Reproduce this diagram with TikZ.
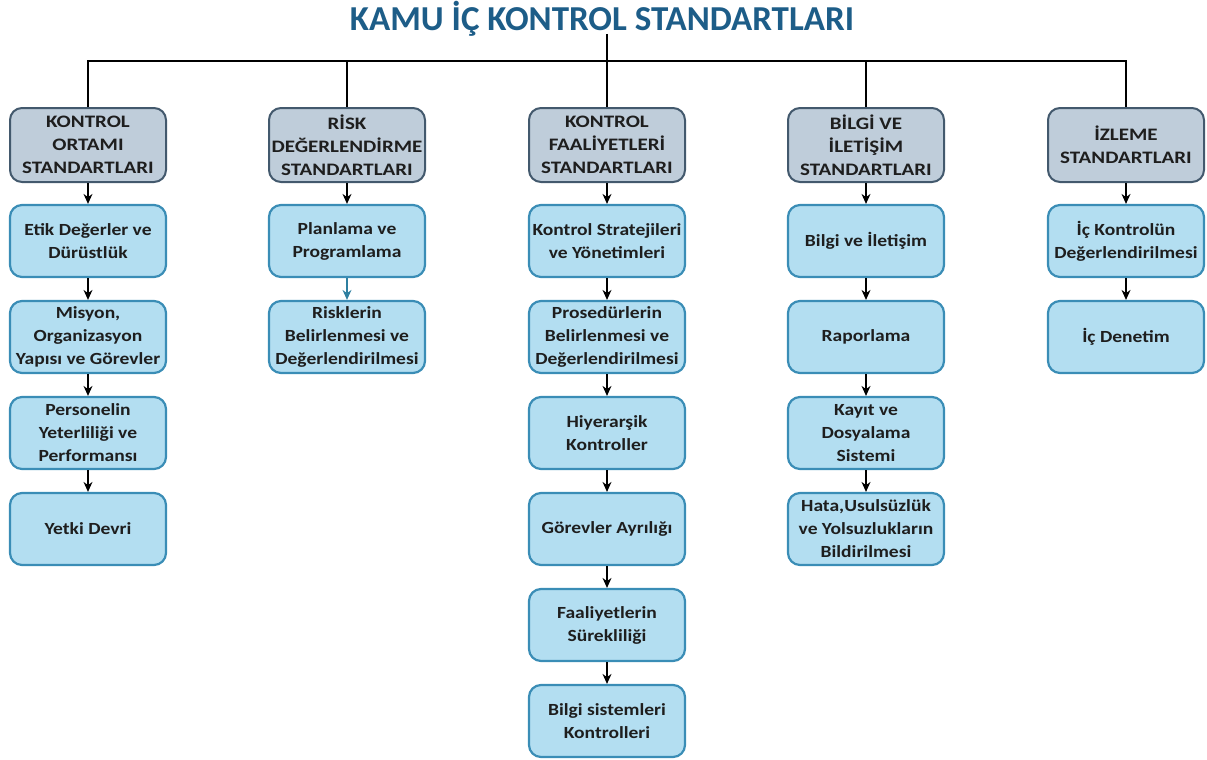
\documentclass[tikz,border=0pt]{standalone}
\usepackage{fontspec}
\setmainfont{Carlito}[FakeStretch=1.2]
\newfontfamily\titlefont{Carlito}
\newfontfamily\childfont{Carlito}[FakeStretch=1.15]
\usetikzlibrary{arrows.meta}
\definecolor{titleblue}{HTML}{1D5D88}
\definecolor{hdrfill}{HTML}{BFCDDA}
\definecolor{hdrline}{HTML}{43596D}
\definecolor{boxfill}{HTML}{B3DEF1}
\definecolor{boxline}{HTML}{3A8DB6}
\definecolor{txt}{HTML}{1E1E1E}
\definecolor{tealarrow}{HTML}{2E7FA0}
\tikzset{
  hdr/.style={draw=hdrline, fill=hdrfill, line width=2pt, rounded corners=12pt,
    minimum width=156pt, minimum height=74pt, inner sep=0pt, align=center,
    text=txt, font=\fontsize{17.5}{23}\selectfont\bfseries},
  item/.style={draw=boxline, fill=boxfill, line width=2.2pt, rounded corners=12pt,
    minimum width=156pt, minimum height=72pt, inner sep=0pt, align=center,
    text=txt, font=\childfont\fontsize{17}{23}\selectfont\bfseries},
  arr/.style={draw=black, line width=1.3pt, -{Stealth[length=10pt,width=9pt]}},
  bus/.style={draw=black, line width=2pt},
}
\begin{document}
\begin{tikzpicture}[x=1pt,y=-1pt]
\useasboundingbox (0,0) rectangle (1207,760);
\node[text=titleblue, font=\titlefont\fontsize{35}{38}\selectfont\bfseries] (title) at (602,19) {KAMU İÇ KONTROL STANDARTLARI};
\coordinate (top) at (607,34);
\coordinate (bus) at (607,61);
% headers
\node[hdr] (h1) at (88,145) {KONTROL\\ORTAMI\\STANDARTLARI};
\node[hdr] (h2) at (347,145) {RİSK\\DEĞERLENDİRME\\STANDARTLARI};
\node[hdr] (h3) at (607,145) {KONTROL\\FAALİYETLERİ\\STANDARTLARI};
\node[hdr] (h4) at (866,145) {BİLGİ VE\\İLETİŞİM\\STANDARTLARI};
\node[hdr] (h5) at (1126,145) {İZLEME\\STANDARTLARI};
% bus
\draw[bus] (top) -- (bus);
\draw[bus] (h1.north) -- (h1.north |- bus) -- (h5.north |- bus) -- (h5.north);
\draw[bus] (h2.north) -- (h2.north |- bus);
\draw[bus] (h3.north) -- (h3.north |- bus);
\draw[bus] (h4.north) -- (h4.north |- bus);
% column 1
\node[item] (a1) at (88,241) {Etik Değerler ve\\Dürüstlük};
\node[item] (a2) at (88,337) {Misyon,\\Organizasyon\\Yapısı ve Görevler};
\node[item] (a3) at (88,433) {Personelin\\Yeterliliği ve\\Performansı};
\node[item] (a4) at (88,529) {Yetki Devri};
% column 2
\node[item] (b1) at (347,241) {Planlama ve\\Programlama};
\node[item] (b2) at (347,337) {Risklerin\\Belirlenmesi ve\\Değerlendirilmesi};
% column 3
\node[item] (c1) at (607,241) {Kontrol Stratejileri\\ve Yönetimleri};
\node[item] (c2) at (607,337) {Prosedürlerin\\Belirlenmesi ve\\Değerlendirilmesi};
\node[item] (c3) at (607,433) {Hiyerarşik\\Kontroller};
\node[item] (c4) at (607,529) {Görevler Ayrılığı};
\node[item] (c5) at (607,625) {Faaliyetlerin\\Sürekliliği};
\node[item] (c6) at (607,721) {Bilgi sistemleri\\Kontrolleri};
% column 4
\node[item] (d1) at (866,241) {Bilgi ve İletişim};
\node[item] (d2) at (866,337) {Raporlama};
\node[item] (d3) at (866,433) {Kayıt ve\\Dosyalama\\Sistemi};
\node[item] (d4) at (866,529) {Hata,Usulsüzlük\\ve Yolsuzlukların\\Bildirilmesi};
% column 5
\node[item] (e1) at (1126,241) {İç Kontrolün\\Değerlendirilmesi};
\node[item] (e2) at (1126,337) {İç Denetim};
% arrows
\draw[arr] (h1) -- (a1);
\draw[arr] (a1) -- (a2);
\draw[arr] (a2) -- (a3);
\draw[arr] (a3) -- (a4);
\draw[arr] (h2) -- (b1);
\draw[arr, draw=tealarrow, fill=tealarrow] (b1) -- (b2);
\draw[arr] (h3) -- (c1);
\draw[arr] (c1) -- (c2);
\draw[arr] (c2) -- (c3);
\draw[arr] (c3) -- (c4);
\draw[arr] (c4) -- (c5);
\draw[arr] (c5) -- (c6);
\draw[arr] (h4) -- (d1);
\draw[arr] (d1) -- (d2);
\draw[arr] (d2) -- (d3);
\draw[arr] (d3) -- (d4);
\draw[arr] (h5) -- (e1);
\draw[arr] (e1) -- (e2);
\end{tikzpicture}
\end{document}
